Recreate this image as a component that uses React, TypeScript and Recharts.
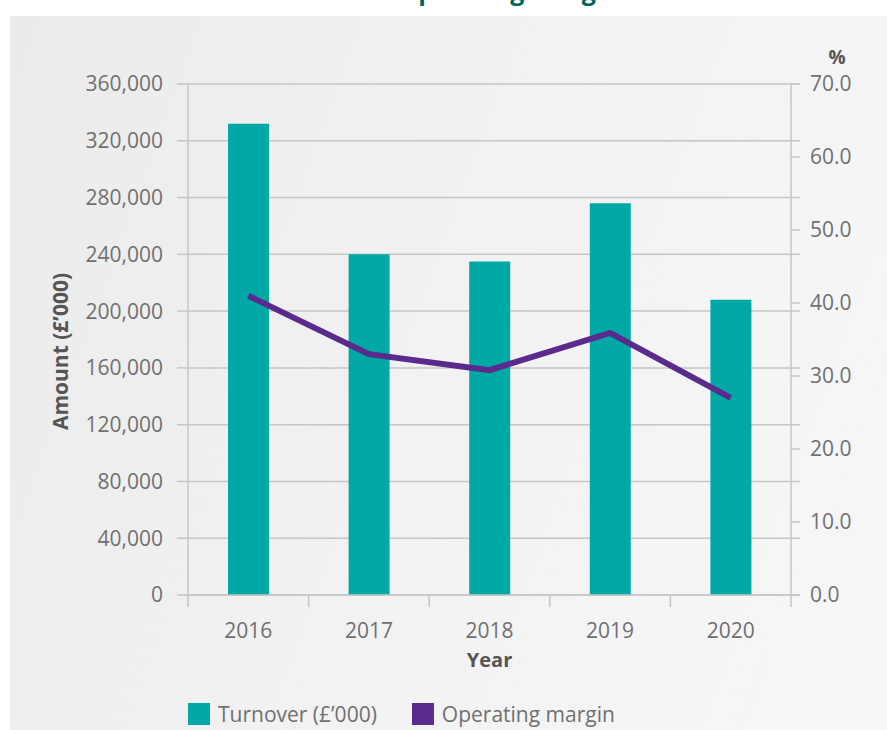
import { ComposedChart, Bar, Line, XAxis, YAxis, CartesianGrid } from "recharts";

const years = ["2016", "2017", "2018", "2019", "2020"];
const turnover = [332000, 240000, 235000, 276000, 208000];
const operatingMargin = [41.0, 33.0, 30.8, 35.9, 27.0];
const amountTicks = [0, 40000, 80000, 120000, 160000, 200000, 240000, 280000, 320000, 360000];
const percentTicks = [0, 10, 20, 30, 40, 50, 60, 70];
const seriesNames = ["Turnover (£’000)", "Operating margin"];

const TEAL = "#00a9a6";
const PURPLE = "#5a2b8c";
const GRID = "#c6c6c6";
const TEXT = "#707070";
const FONT = "'Open Sans', sans-serif";

const data = years.map((year, i) => ({
  year,
  turnover: turnover[i],
  margin: operatingMargin[i],
}));

const W = 887;
const H = 730;
const plotLeft = 188;
const plotRight = 791;
const band = (plotRight - plotLeft) / years.length;

function YearTick(props: any) {
  const { x, y, payload, index } = props;
  return (
    <g>
      <line x1={x - band / 2} x2={x - band / 2} y1={y} y2={y + 12} stroke={GRID} strokeWidth={1.5} />
      {index === years.length - 1 && (
        <line x1={x + band / 2} x2={x + band / 2} y1={y} y2={y + 12} stroke={GRID} strokeWidth={1.5} />
      )}
      <text x={x} y={y + 43} textAnchor="middle" fill={TEXT} fontSize={21} fontFamily={FONT}>
        {payload.value}
      </text>
    </g>
  );
}

function GridLine(props: any) {
  const { x1, x2, y1, y2 } = props;
  return <line key={`grid-${y1}`} x1={x1} x2={x2 + 9} y1={y1} y2={y2} stroke={GRID} strokeWidth={1.5} />;
}

export default function App() {
  return (
    <div style={{ position: "absolute", left: 0, top: 0, width: W, height: H, background: "#fff", overflow: "hidden" }}>
      <svg width={W} height={16} style={{ position: "absolute", left: 0, top: 0 }}>
        <text x={620} y={0} textAnchor="end" fill="#00635f" fontSize={25} fontWeight={700} fontFamily={FONT}>
          Turnover and operating margin
        </text>
      </svg>
      <div
        style={{
          position: "absolute",
          left: 10,
          top: 16,
          right: 0,
          bottom: 0,
          background: "linear-gradient(110deg, #ebebeb 0%, #f2f2f2 50%, #f7f7f7 100%)",
        }}
      />
      <div style={{ position: "absolute", left: 0, top: 0 }}>
        <ComposedChart
          width={W}
          height={H}
          data={data}
          margin={{ top: 84, right: W - plotRight - 70, bottom: H - 595 - 60, left: plotLeft - 100 }}
        >
          <CartesianGrid yAxisId="left" vertical={false} horizontal={GridLine} stroke={GRID} />
          <XAxis
            dataKey="year"
            height={60}
            tickSize={0}
            tickMargin={0}
            tickLine={false}
            axisLine={{ stroke: GRID, strokeWidth: 1.5 }}
            tick={<YearTick />}
            label={{
              content: (p: any) => (
                <text
                  x={p.viewBox.x + p.viewBox.width / 2}
                  y={p.viewBox.y + 72}
                  textAnchor="middle"
                  fill="#555"
                  fontSize={20}
                  fontWeight={700}
                  fontFamily={FONT}
                >
                  Year
                </text>
              ),
            }}
          />
          <YAxis
            yAxisId="left"
            width={100}
            domain={[0, 360000]}
            ticks={amountTicks}
            interval={0}
            tickSize={11}
            tickMargin={14}
            axisLine={{ stroke: GRID, strokeWidth: 1.5 }}
            tickLine={{ stroke: GRID, strokeWidth: 1.5 }}
            tick={{ fill: TEXT, fontSize: 21, fontFamily: FONT }}
            tickFormatter={(v: number) => v.toLocaleString("en-GB")}
            label={{
              content: (p: any) => {
                const cx = p.viewBox.x - 28;
                const cy = p.viewBox.y + p.viewBox.height / 2 + 12;
                return (
                  <text
                    x={cx}
                    y={cy}
                    transform={`rotate(-90 ${cx} ${cy})`}
                    textAnchor="middle"
                    dominantBaseline="central"
                    fill="#555"
                    fontSize={21}
                    fontWeight={700}
                    fontFamily={FONT}
                  >
                    Amount (£’000)
                  </text>
                );
              },
            }}
          />
          <YAxis
            yAxisId="right"
            orientation="right"
            width={70}
            domain={[0, 70]}
            ticks={percentTicks}
            interval={0}
            tickSize={9}
            tickMargin={10}
            axisLine={{ stroke: GRID, strokeWidth: 1.5 }}
            tickLine={{ stroke: GRID, strokeWidth: 1.5 }}
            tick={{ fill: TEXT, fontSize: 21, fontFamily: FONT, textAnchor: "start" }}
            tickFormatter={(v: number) => v.toFixed(1)}
            label={{
              content: (p: any) => (
                <text
                  x={p.viewBox.x + 46}
                  y={p.viewBox.y - 20}
                  textAnchor="middle"
                  fill="#555"
                  fontSize={19}
                  fontWeight={700}
                  fontFamily={FONT}
                >
                  %
                </text>
              ),
            }}
          />
          <Bar yAxisId="left" dataKey="turnover" name={seriesNames[0]} fill={TEAL} barSize={41} isAnimationActive={false} />
          <Line
            yAxisId="right"
            dataKey="margin"
            name={seriesNames[1]}
            type="linear"
            stroke={PURPLE}
            strokeWidth={6}
            dot={false}
            activeDot={false}
            isAnimationActive={false}
          />
        </ComposedChart>
      </div>
      <div
        style={{
          position: "absolute",
          left: 188,
          top: 700,
          display: "flex",
          alignItems: "center",
          fontFamily: FONT,
          fontSize: 21,
          color: TEXT,
        }}
      >
        {seriesNames.map((name, i) => (
          <div key={name} style={{ display: "flex", alignItems: "center", marginRight: 35 }}>
            <span style={{ width: 22, height: 22, background: i === 0 ? TEAL : PURPLE, marginRight: 8 }} />
            <span>{name}</span>
          </div>
        ))}
      </div>
    </div>
  );
}
